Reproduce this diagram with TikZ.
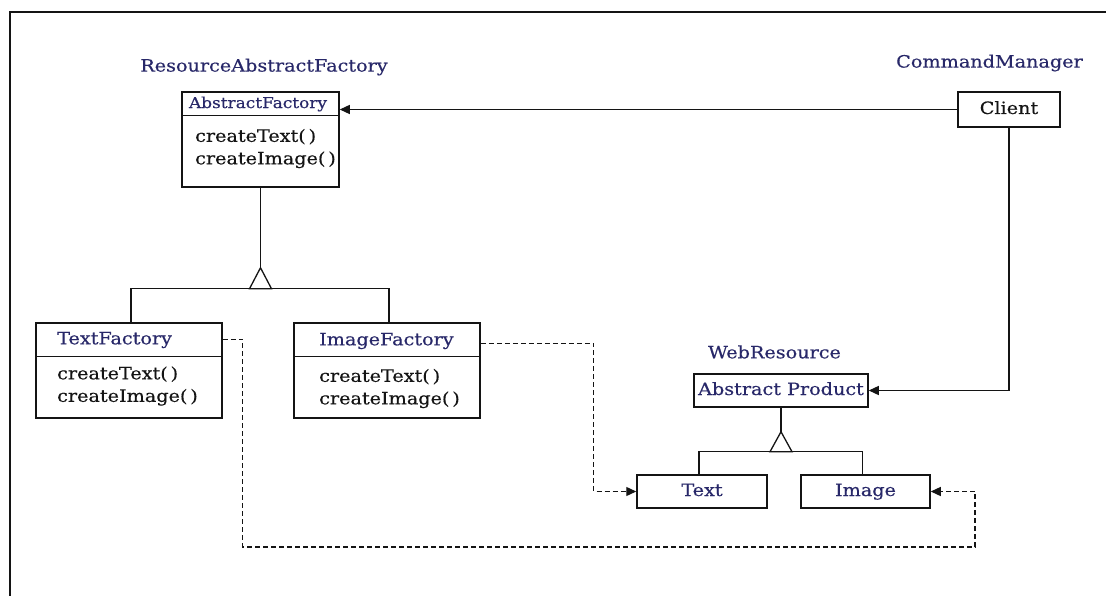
\documentclass[tikz,border=0pt]{standalone}
\usepackage{fontspec}
\setmainfont{DejaVu Serif}[FakeStretch=1.13,FakeBold=0.4]
\usetikzlibrary{arrows.meta}
\definecolor{navy}{RGB}{40,40,105}
\definecolor{ink}{RGB}{20,20,20}
\begin{document}
\begin{tikzpicture}[x=1pt,y=-1pt,
  box/.style={draw=ink, line width=1.5pt, inner sep=0pt, rectangle, text=navy, font=\fontsize{17}{20}\selectfont, text height=12.5pt, text depth=3.5pt},
  divider/.style={draw=ink, line width=1.4pt},
  lbl/.style={text=navy, font=\fontsize{17}{20}\selectfont, inner sep=0pt},
  hdr/.style={text=navy, font=\fontsize{17}{20}\selectfont, inner sep=0pt, anchor=west},
  ops/.style={text=ink, font=\fontsize{17}{22.5}\selectfont, inner sep=0pt, anchor=west, align=left},
  conn/.style={draw=ink, line width=1.3pt},
  dconn/.style={conn, dash pattern=on 5pt off 3pt},
  tip/.style={-{Triangle[length=10pt,width=9pt]}},
]
\useasboundingbox (0,0) rectangle (1106,596);
\fill[white] (0,0) rectangle (1106,596);
\draw[line width=1.4pt, ink] (10,596) -- (10,12) -- (1106,12);

% package labels
\node[lbl] (rafl) at (264,67) {ResourceAbstractFactory};
\node[lbl] (cml) at (989.5,63) {CommandManager};
\node[lbl] (wrl) at (774.5,352) {WebResource};

% AbstractFactory
\node[box, minimum width=157pt, minimum height=95pt] (af) at (260.5,139.5) {};
\draw[divider] ([yshift=-24pt]af.north west) -- ([yshift=-24pt]af.north east);
\node[lbl, font=\fontsize{15}{18}\selectfont] (afh) at (258,104) {AbstractFactory};
\node[ops] (afo) at (195,148.5) {createText(\,)\\createImage(\,)};

% TextFactory
\node[box, minimum width=186pt, minimum height=95pt] (tf) at (129,370.5) {};
\draw[divider] ([yshift=-34pt]tf.north west) -- ([yshift=-34pt]tf.north east);
\node[hdr] (tfh) at (57,340) {TextFactory};
\node[ops] (tfo) at (57,386) {createText(\,)\\createImage(\,)};

% ImageFactory
\node[box, minimum width=186pt, minimum height=95pt] (imf) at (387,370.5) {};
\draw[divider] ([yshift=-34pt]imf.north west) -- ([yshift=-34pt]imf.north east);
\node[hdr] (imfh) at (319,341) {ImageFactory};
\node[ops] (imfo) at (319,388.5) {createText(\,)\\createImage(\,)};

% Client
\node[box, text=ink, minimum width=102pt, minimum height=35pt] (cl) at (1009,109.5) {Client};

% products
\node[box, minimum width=174pt, minimum height=33pt] (ap) at (781,390.5) {Abstract Product};
\node[box, minimum width=130pt, minimum height=33pt] (tx) at (702,491.5) {Text};
\node[box, minimum width=129pt, minimum height=33pt] (im) at (865.5,491.5) {Image};

% associations
\draw[conn, tip] (cl.west) -- (cl.west -| af.east);
\draw[conn, tip] (cl.south) |- (ap.east);

% inheritance of factories
\draw[conn] (af.south) -- ++(0,80) coordinate (afapex);
\draw[conn] (afapex) -- ++(-11,21) -- ++(22,0) -- cycle;
\coordinate (afbar) at ([yshift=-101pt]af.south);
\draw[conn] ([xshift=2pt]tf.north) |- (afbar) -| ([xshift=2pt]imf.north);

% inheritance of products
\draw[conn] (ap.south) -- ++(0,24) coordinate (apapex);
\draw[conn] (apapex) -- ++(-11,20) -- ++(22,0) -- cycle;
\coordinate (apbar) at ([yshift=-44pt]ap.south);
\draw[conn] ([xshift=-3pt]tx.north) |- (apbar) -| ([xshift=-3pt]im.north);

% dependencies
\coordinate (dlow) at (975,547);
\draw[dconn, tip] ([yshift=-21pt]imf.north east) -- ++(113,0) |- (tx.west);
\draw[dconn, tip] ([yshift=-17pt]tf.north east) -- ++(20,0) |- (dlow) |- (im.east);
\end{tikzpicture}
\end{document}
